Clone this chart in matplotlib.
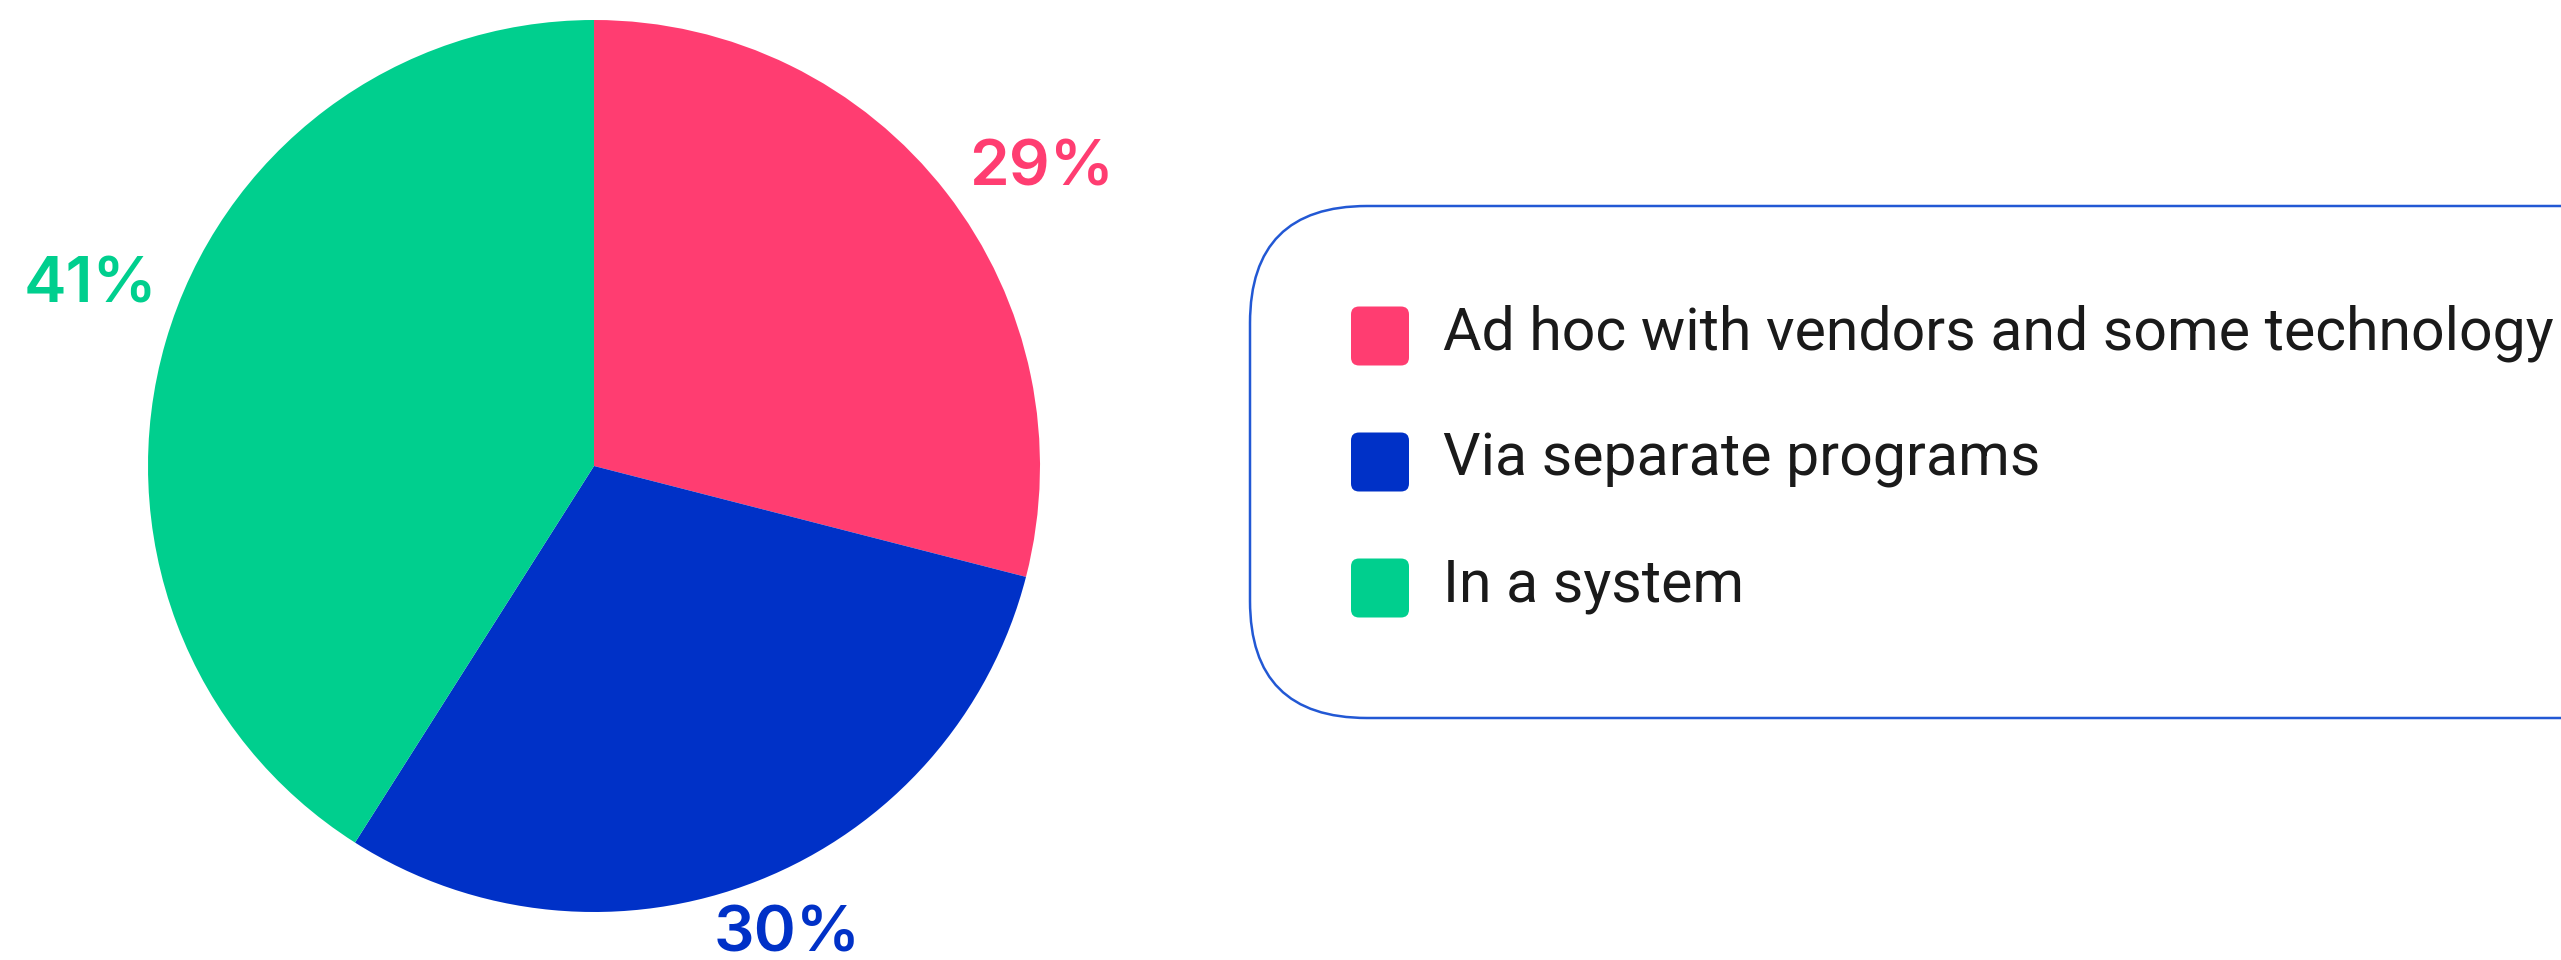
import matplotlib
matplotlib.use("Agg")
import matplotlib.pyplot as plt
from matplotlib.patches import FancyBboxPatch
import numpy as np

# Survey shares
categories = ["Ad hoc with vendors and some technology", "Via separate programs", "In a system"]
shares = [29, 30, 41]
pct_labels = ["29%", "30%", "41%"]
colors = ["#FF3D71", "#0031C7", "#00CF8E"]

W, H = 2561, 960
fig = plt.figure(figsize=(W / 100, H / 100), dpi=100)
ax = fig.add_axes([0, 0, 1, 1])

# Pie, clockwise from 12 o'clock
cx, cy, r = 594, H - 466, 446
wedges, _ = ax.pie(shares, colors=colors, startangle=90, counterclock=False,
                   center=(cx, cy), radius=r, frame=True,
                   wedgeprops=dict(linewidth=0))
ax.set_xlim(0, W)
ax.set_ylim(0, H)
ax.set_aspect("equal")
ax.axis("off")

# Percentage labels outside each wedge (radial distance, angular nudge in degrees)
label_dist = [1.204, 1.137, 1.2]
label_nudge = [-4.2, 0.8, -3.5]
for w, txt, col, d, dn in zip(wedges, pct_labels, colors, label_dist, label_nudge):
    ang = np.deg2rad((w.theta1 + w.theta2) / 2 + dn)
    x = cx + d * r * np.cos(ang)
    y = cy + d * r * np.sin(ang)
    ax.text(x, y, txt, color=col, fontsize=46, fontweight="semibold",
            family=["Inter", "DejaVu Sans"], ha="center", va="center")

# Legend frame (runs off the right edge)
frame_left, frame_top, frame_bottom = 1250, 206, 718
ax.add_patch(FancyBboxPatch((frame_left, H - frame_bottom), W + 300 - frame_left,
                            frame_bottom - frame_top,
                            boxstyle="round,pad=0,rounding_size=117",
                            facecolor="white", edgecolor="#2258D4", linewidth=1.8,
                            clip_on=False))

# Legend entries
row_centers = [336, 462, 588]
for name, col, yc in zip(categories, colors, row_centers):
    ax.add_patch(FancyBboxPatch((1351, H - yc - 29.5), 58, 59,
                                boxstyle="round,pad=0,rounding_size=8",
                                facecolor=col, edgecolor="none"))
    ax.text(1443, H - yc - 13, name, color="#1A1A1A", fontsize=42.5,
            family=["Roboto", "DejaVu Sans"], ha="left", va="baseline")

fig.savefig("out.png", dpi=100, facecolor="white")
